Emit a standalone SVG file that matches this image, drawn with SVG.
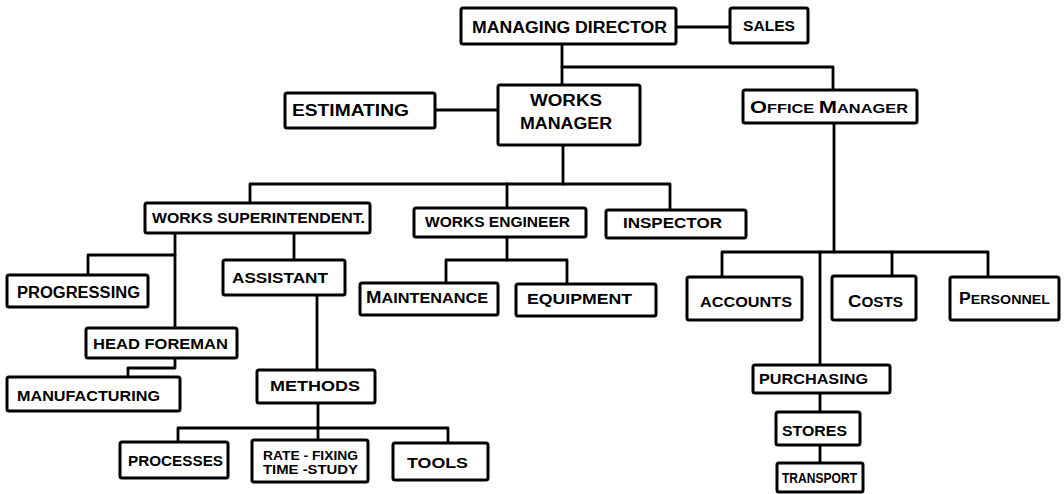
<svg xmlns="http://www.w3.org/2000/svg" width="1064" height="494" viewBox="0 0 1064 494">
  <style>
    .box { fill: #fff; stroke: #000; stroke-width: 3; stroke-linejoin: round; }
    .ln { fill: none; stroke: #000; stroke-width: 2.8; stroke-linecap: round; stroke-linejoin: round; }
    text { font-family: "Liberation Sans", Arial, sans-serif; font-weight: bold; fill: #000; }
  </style>
  <rect width="1064" height="494" fill="#fff"/>

  <!-- connectors -->
  <g id="connectors" class="ln">
    <path d="M676 27 H730"/>
    <path d="M562 44 V85"/>
    <path d="M562 67 H833 V90"/>
    <path d="M435 110 H498"/>
    <path d="M563 145 V184"/>
    <path d="M250 203 V184 H670 V210"/>
    <path d="M507 184 V208"/>
    <path d="M175 233 V328"/>
    <path d="M88 275 V255 H175"/>
    <path d="M294 233 V260"/>
    <path d="M317 295 V370"/>
    <path d="M175 358 V368 H128 V377"/>
    <path d="M507 237 V260"/>
    <path d="M446 283 V260 H567 V284"/>
    <path d="M318 403 V440"/>
    <path d="M178 442 V428 H448 V443"/>
    <path d="M834 123 V252"/>
    <path d="M722 277 V252 H988 V277"/>
    <path d="M892 252 V276"/>
    <path d="M820 252 V365"/>
    <path d="M820 393 V412"/>
    <path d="M820 445 V463"/>
  </g>

  <g id="managing-director">
    <rect class="box" x="461" y="8" width="215" height="36" rx="2"/>
    <text x="472" y="32.7" font-size="16" textLength="195" lengthAdjust="spacingAndGlyphs">MANAGING DIRECTOR</text>
  </g>
  <g id="sales">
    <rect class="box" x="730" y="8" width="78" height="35" rx="2"/>
    <text x="743" y="31.4" font-size="15" textLength="52" lengthAdjust="spacingAndGlyphs">SALES</text>
  </g>
  <g id="estimating">
    <rect class="box" x="285" y="93" width="150" height="35" rx="2"/>
    <text x="292" y="115.8" font-size="16" textLength="117" lengthAdjust="spacingAndGlyphs">ESTIMATING</text>
  </g>
  <g id="works-manager">
    <rect class="box" x="498" y="85" width="142" height="60" rx="2"/>
    <text x="530" y="105.8" font-size="16" textLength="72" lengthAdjust="spacingAndGlyphs">WORKS</text>
    <text x="520" y="128.8" font-size="16" textLength="92" lengthAdjust="spacingAndGlyphs">MANAGER</text>
  </g>
  <g id="office-manager">
    <rect class="box" x="743" y="90" width="174" height="33" rx="2"/>
    <text x="750" y="113.4" textLength="158" lengthAdjust="spacingAndGlyphs"><tspan font-size="16">O</tspan><tspan font-size="12">FFICE </tspan><tspan font-size="16">M</tspan><tspan font-size="12">ANAGER</tspan></text>
  </g>
  <g id="works-superintendent">
    <rect class="box" x="145" y="203" width="225" height="30" rx="2"/>
    <text x="152" y="223.4" font-size="15" textLength="213" lengthAdjust="spacingAndGlyphs">WORKS SUPERINTENDENT.</text>
  </g>
  <g id="works-engineer">
    <rect class="box" x="414" y="208" width="172" height="29" rx="2"/>
    <text x="425" y="227" font-size="14" textLength="145" lengthAdjust="spacingAndGlyphs">WORKS ENGINEER</text>
  </g>
  <g id="inspector">
    <rect class="box" x="606" y="210" width="140" height="28" rx="2"/>
    <text x="623" y="228" font-size="14" textLength="99" lengthAdjust="spacingAndGlyphs">INSPECTOR</text>
  </g>
  <g id="progressing">
    <rect class="box" x="7" y="275" width="141" height="32" rx="2"/>
    <text x="17" y="297.8" font-size="16" textLength="123" lengthAdjust="spacingAndGlyphs">PROGRESSING</text>
  </g>
  <g id="assistant">
    <rect class="box" x="223" y="260" width="122" height="35" rx="2"/>
    <text x="232" y="283" font-size="14" textLength="96" lengthAdjust="spacingAndGlyphs">ASSISTANT</text>
  </g>
  <g id="maintenance">
    <rect class="box" x="360" y="283" width="138" height="32" rx="2"/>
    <text x="366" y="303.4" textLength="122" lengthAdjust="spacingAndGlyphs"><tspan font-size="16">M</tspan><tspan font-size="14">AINTENANCE</tspan></text>
  </g>
  <g id="equipment">
    <rect class="box" x="516" y="284" width="140" height="32" rx="2"/>
    <text x="527" y="304.4" font-size="15" textLength="105" lengthAdjust="spacingAndGlyphs">EQUIPMENT</text>
  </g>
  <g id="accounts">
    <rect class="box" x="687" y="277" width="115" height="43" rx="2"/>
    <text x="700" y="307" font-size="14" textLength="92" lengthAdjust="spacingAndGlyphs">ACCOUNTS</text>
  </g>
  <g id="costs">
    <rect class="box" x="832" y="276" width="84" height="44" rx="2"/>
    <text x="848" y="307" textLength="55" lengthAdjust="spacingAndGlyphs"><tspan font-size="17">C</tspan><tspan font-size="14">OSTS</tspan></text>
  </g>
  <g id="personnel">
    <rect class="box" x="950" y="277" width="109" height="43" rx="2"/>
    <text x="959" y="303.5" textLength="91" lengthAdjust="spacingAndGlyphs"><tspan font-size="16">P</tspan><tspan font-size="13">ERSONNEL</tspan></text>
  </g>
  <g id="head-foreman">
    <rect class="box" x="86" y="328" width="151" height="30" rx="2"/>
    <text x="93" y="349" font-size="15" textLength="135" lengthAdjust="spacingAndGlyphs">HEAD FOREMAN</text>
  </g>
  <g id="manufacturing">
    <rect class="box" x="7" y="377" width="173" height="34" rx="2"/>
    <text x="17" y="401.4" font-size="15" textLength="143" lengthAdjust="spacingAndGlyphs">MANUFACTURING</text>
  </g>
  <g id="methods">
    <rect class="box" x="257" y="370" width="118" height="33" rx="2"/>
    <text x="270" y="391.4" font-size="15" textLength="90" lengthAdjust="spacingAndGlyphs">METHODS</text>
  </g>
  <g id="processes">
    <rect class="box" x="120" y="442" width="108" height="36" rx="2"/>
    <text x="128" y="466.4" font-size="15" textLength="95" lengthAdjust="spacingAndGlyphs">PROCESSES</text>
  </g>
  <g id="rate-fixing">
    <rect class="box" x="252" y="440" width="116" height="42" rx="2"/>
    <text x="263" y="459.7" font-size="13" textLength="95" lengthAdjust="spacingAndGlyphs">RATE - FIXING</text>
    <text x="263" y="473.7" font-size="13" textLength="95" lengthAdjust="spacingAndGlyphs">TIME -STUDY</text>
  </g>
  <g id="tools">
    <rect class="box" x="393" y="443" width="95" height="37" rx="2"/>
    <text x="407" y="468" font-size="15" textLength="61" lengthAdjust="spacingAndGlyphs">TOOLS</text>
  </g>
  <g id="purchasing">
    <rect class="box" x="753" y="365" width="137" height="28" rx="2"/>
    <text x="759" y="384.4" font-size="15" textLength="109" lengthAdjust="spacingAndGlyphs">PURCHASING</text>
  </g>
  <g id="stores">
    <rect class="box" x="776" y="412" width="84" height="33" rx="2"/>
    <text x="782" y="436" font-size="15" textLength="65" lengthAdjust="spacingAndGlyphs">STORES</text>
  </g>
  <g id="transport">
    <rect class="box" x="777" y="463" width="86" height="29" rx="2"/>
    <text x="782" y="482.5" font-size="14" textLength="75" lengthAdjust="spacingAndGlyphs">TRANSPORT</text>
  </g>
</svg>
